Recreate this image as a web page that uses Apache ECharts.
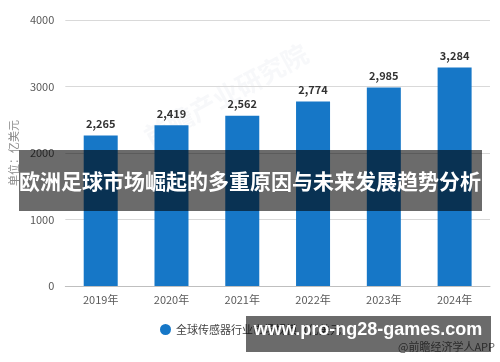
<!DOCTYPE html>
<html><head><meta charset="utf-8">
<script src="https://cdn.jsdelivr.net/npm/echarts@6/dist/echarts.min.js"></script>
<style>html,body{margin:0;padding:0;background:#fff}#c{width:500px;height:362px}</style>
</head><body><div id="c"></div>
<script>
var categories = ['2019年','2020年','2021年','2022年','2023年','2024年'];
var values = [2265, 2419, 2562, 2774, 2985, 3284];
var yTicks = [0, 1000, 2000, 3000, 4000];
var seriesName = '全球传感器行业市场规模（亿美元）';
var titleText = '欧洲足球市场崛起的多重原因与未来发展趋势分析';
var siteText = 'www.pro-ng28-games.com';
var sourceText = '@前瞻经济学人APP';
var unitText = '单位：亿美元';

var F = '"Noto Sans CJK SC", "Noto Sans", sans-serif';
var chart = echarts.init(document.getElementById('c'), null, {renderer: 'canvas'});
chart.setOption({
  animation: false,
  backgroundColor: '#fff',
  grid: {left: 60, right: 10, top: 20, bottom: 76},
  legend: {
    data: [seriesName], left: 155, top: 319, icon: 'circle', itemWidth: 11, itemHeight: 11, itemGap: 6,
    textStyle: {color: '#444', fontSize: 11, fontFamily: F}
  },
  xAxis: {
    type: 'category', data: categories,
    axisLine: {lineStyle: {color: '#bfbfbf'}},
    axisTick: {alignWithLabel: true, length: 4, lineStyle: {color: '#bfbfbf'}},
    axisLabel: {color: '#595959', fontSize: 11, fontFamily: F, margin: 8}
  },
  yAxis: {
    type: 'value', min: yTicks[0], max: yTicks[yTicks.length-1], interval: 1000,
    name: unitText, nameLocation: 'middle', nameRotate: 90, nameGap: 42,
    nameTextStyle: {color: '#8c8c8c', fontSize: 11, fontFamily: F},
    axisLine: {show: false}, axisTick: {show: false},
    axisLabel: {color: '#595959', fontSize: 11, fontFamily: F, margin: 11, formatter: function(v){ return String(v); }},
    splitLine: {lineStyle: {color: '#d9d9d9'}}
  },
  series: [{
    name: seriesName, type: 'bar', data: values, barWidth: 34,
    itemStyle: {color: '#1677c7'},
    label: {show: true, position: 'top', distance: 6, color: '#333', fontSize: 11, fontWeight: 'bold', fontFamily: F,
      formatter: function(p){ return p.value.toLocaleString('en-US'); }}
  }],
  graphic: [
    {type: 'text', left: 140, top: 40, rotation: 0.5, silent: true,
      style: {text: '前瞻产业研究院', fontSize: 26, fontWeight: 'bold', fill: 'rgba(200,205,220,0.14)', fontFamily: F}},
    {type: 'rect', shape: {x: 19, y: 150, width: 463, height: 61}, style: {fill: 'rgba(0,0,0,0.58)'}, z: 100},
    {type: 'text', x: 250, y: 181, z: 101, style: {text: titleText, fill: '#fff', fontSize: 21, fontWeight: 'bold', fontFamily: F, align: 'center', verticalAlign: 'middle'}},
    {type: 'text', x: 495, y: 347, z: 99, style: {text: sourceText, fill: '#666', fontSize: 11, fontFamily: F, align: 'right', verticalAlign: 'middle'}},
    {type: 'rect', shape: {x: 246, y: 316, width: 245, height: 36}, style: {fill: 'rgba(0,0,0,0.58)'}, z: 100},
    {type: 'text', x: 368, y: 330, z: 101, style: {text: siteText, fill: '#fff', fontSize: 18, fontWeight: 'bold', fontFamily: '"Liberation Sans", Arial, sans-serif', align: 'center', verticalAlign: 'middle'}}
  ]
});
</script></body></html>
